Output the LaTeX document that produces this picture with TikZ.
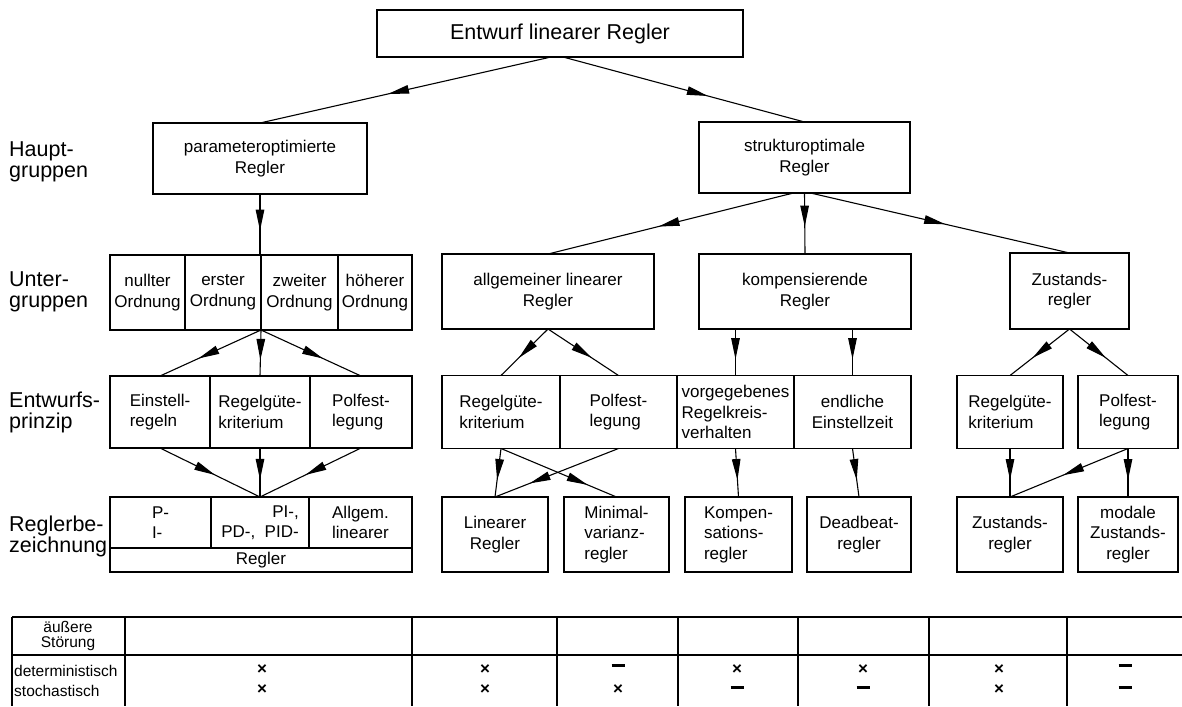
\documentclass[tikz,border=0pt]{standalone}
\usepackage{fontspec}
\setmainfont{Liberation Sans}
\usetikzlibrary{arrows.meta,decorations.markings}
\newcommand{\rgbox}{\fontsize{17}{20.5}\selectfont}
\newcommand{\rgbig}{\fontsize{21.5}{21}\selectfont}
\newcommand{\rgtab}{\fontsize{15.5}{15}\selectfont}
\newcommand{\rgstrich}{\rule[0.35ex]{13pt}{2.2pt}}
\begin{document}
\begin{tikzpicture}[x=1pt, y=-1pt,
  box/.style={draw, line width=1.5pt, inner sep=0pt, outer sep=0pt, align=center, font=\rgbox},
  zeile/.style={anchor=west, align=left, inner sep=0pt, font=\rgbig},
  pfeil/.style={line width=1.1pt, postaction={decorate},
    decoration={markings, mark=at position #1 with {\arrow{Triangle[length=21pt,width=8.5pt]}}}},
  pfeil/.default=0.6,
  tab/.style={line width=1.1pt},
  kreuz/.style={inner sep=0pt, font=\fontsize{17}{17}\selectfont\bfseries}]
\useasboundingbox (0,0) rectangle (1182,706);
% Entwurf
\node[box, font=\rgbig, minimum width=366pt, minimum height=47pt] (top) at (560,33.5){Entwurf linearer Regler};
% Hauptgruppen
\node[zeile] (lab1) at (9,162){Haupt-\\gruppen};
\node[box, minimum width=214pt, minimum height=71pt] (hg1) at (260,158.5){parameteroptimierte\\Regler};
\node[box, minimum width=211pt, minimum height=71pt] (hg2) at (804.5,157.5){strukturoptimale\\Regler};
\draw[pfeil=0.56]([xshift=-9pt]top.south) -- (hg1.north);
\draw[pfeil=0.6]([xshift=3pt]top.south) -- (hg2.north);
% Untergruppen
\node[zeile] (lab2) at (9,292){Unter-\\gruppen};
\node[box, minimum width=75pt, minimum height=75pt] (ug1) at (147.5,292.5){nullter\\Ordnung};
\node[box, minimum width=76pt, minimum height=75pt] (ug2) at (223,292.5){erster\\Ordnung};
\node[box, minimum width=77pt, minimum height=75pt] (ug3) at (299.5,292.5){zweiter\\Ordnung};
\node[box, minimum width=74pt, minimum height=75pt] (ug4) at (375,292.5){höherer\\Ordnung};
\node[box, minimum width=212pt, minimum height=75pt] (ug5) at (548,291.5){allgemeiner linearer\\Regler};
\node[box, minimum width=212pt, minimum height=75pt] (ug6) at (805,291.5){kompensierende\\Regler};
\node[box, minimum width=119pt, minimum height=76pt] (ug7) at (1069.5,291){Zustands-\\regler};
\draw[pfeil=0.6](hg1.south) -- (hg1.south |- ug2.north);
\draw[pfeil=0.55]([xshift=-11pt]hg2.south) -- (ug5.north);
\draw[pfeil=0.55](hg2.south) -- (ug6.north);
\draw[pfeil=0.52]([xshift=6pt]hg2.south) -- (ug7.north);
% Entwurfsprinzip
\node[zeile] (lab3) at (9,412){Entwurfs-\\prinzip};
\node[box, align=left, minimum width=100pt, minimum height=72pt] (ep1) at (160,412){Einstell-\\regeln};
\node[box, align=left, minimum width=100pt, minimum height=72pt] (ep2) at (260,412){Regelgüte-\\kriterium};
\node[box, align=left, minimum width=102pt, minimum height=72pt] (ep3) at (361,412){Polfest-\\legung};
\node[box, align=left, minimum width=118pt, minimum height=73pt] (ep4) at (501,412){Regelgüte-\\kriterium};
\node[box, align=left, minimum width=117pt, minimum height=73pt] (ep5) at (618.5,412){Polfest-\\legung};
\node[box, align=left, minimum width=117pt, minimum height=73pt] (ep6) at (735.5,412){vorgegebenes\\Regelkreis-\\verhalten};
\node[box, minimum width=117pt, minimum height=73pt] (ep7) at (852.5,412){endliche\\Einstellzeit};
\node[box, align=left, minimum width=106pt, minimum height=73pt] (ep8) at (1010,412){Regelgüte-\\kriterium};
\node[box, align=left, minimum width=100pt, minimum height=73pt] (ep9) at (1128,412){Polfest-\\legung};
\draw[pfeil=0.62](ug2.south east) -- (ep1.north);
\draw[pfeil=0.65](ug2.south east) -- (ep2.north);
\draw[pfeil=0.62](ug2.south east) -- (ep3.north);
\draw[pfeil=0.62](ug5.south) -- (ep4.north);
\draw[pfeil=0.62](ug5.south) -- (ep5.north);
\draw[pfeil=0.65](ug6.south -| ep6.north) -- (ep6.north);
\draw[pfeil=0.65](ug6.south -| ep7.north) -- (ep7.north);
\draw[pfeil=0.62](ug7.south) -- (ep8.north);
\draw[pfeil=0.62](ug7.south) -- (ep9.north);
% Reglerbezeichnung
\node[zeile] (lab4) at (9,536){Reglerbe-\\zeichnung};
\node[box, align=left, minimum width=101pt, minimum height=51pt] (rb1) at (160.5,522.5){P-\\I-};
\node[box, align=right, minimum width=98pt, minimum height=51pt] (rb2) at (260,522.5){PI-,\\PD-,\ \ PID-};
\node[box, align=left, minimum width=103pt, minimum height=51pt] (rb3) at (360.5,522.5){Allgem.\\linearer};
\node[box, minimum width=302pt, minimum height=24pt] (rb4) at (261,560){Regler};
\node[box, minimum width=106pt, minimum height=75pt] (bt1) at (495,534.5){Linearer\\Regler};
\node[box, align=left, minimum width=105pt, minimum height=75pt] (bt2) at (616.5,534.5){Minimal-\\varianz-\\regler};
\node[box, align=left, minimum width=107pt, minimum height=75pt] (bt3) at (738.5,534.5){Kompen-\\sations-\\regler};
\node[box, minimum width=104pt, minimum height=75pt] (bt4) at (859,534.5){Deadbeat-\\regler};
\node[box, minimum width=106pt, minimum height=75pt] (bt5) at (1010,534.5){Zustands-\\regler};
\node[box, minimum width=100pt, minimum height=75pt] (bt6) at (1128,534.5){modale\\Zustands-\\regler};
\draw[pfeil=0.55](ep1.south) -- (rb2.north);
\draw[pfeil=0.65](ep2.south) -- (rb2.north);
\draw[pfeil=0.55](ep3.south) -- (rb2.north);
\draw[pfeil=0.65](ep4.south) -- (bt1.north);
\draw[pfeil=0.75](ep4.south) -- (bt2.north);
\draw[pfeil=0.72](ep5.south) -- (bt1.north);
\draw[pfeil=0.65](ep6.south) -- (bt3.north);
\draw[pfeil=0.65](ep7.south) -- (bt4.north);
\draw[pfeil=0.65](ep8.south) -- (bt5.north);
\draw[pfeil=0.65](ep9.south) -- (bt6.north);
\draw[pfeil=0.55](ep9.south) -- (bt5.north);
% Tabelle
\draw[tab](12,617) -- (1182,617);
\draw[tab](12,655) -- (1182,655);
\draw[tab](12,617) -- (12,706);
\draw[tab](125,617) -- (125,706);
\draw[tab](412,617) -- (412,706);
\draw[tab](557,617) -- (557,706);
\draw[tab](678,617) -- (678,706);
\draw[tab](798,617) -- (798,706);
\draw[tab](929,617) -- (929,706);
\draw[tab](1067,617) -- (1067,706);
\node[inner sep=0pt, align=center, font=\rgtab] (tk0) at (68,636){äußere\\Störung};
\node[anchor=west, inner sep=0pt, font=\rgtab] (tk1) at (14,671){deterministisch};
\node[anchor=west, inner sep=0pt, font=\rgtab] (tk2) at (14,691){stochastisch};
\node[kreuz] (m11) at (262,670){×};
\node[kreuz] (m12) at (485,670){×};
\node[kreuz] (m13) at (618,667){\rgstrich};
\node[kreuz] (m14) at (737,670){×};
\node[kreuz] (m15) at (863,670){×};
\node[kreuz] (m16) at (999,670){×};
\node[kreuz] (m17) at (1125,667){\rgstrich};
\node[kreuz] (m21) at (262,690){×};
\node[kreuz] (m22) at (485,690){×};
\node[kreuz] (m23) at (618,690){×};
\node[kreuz] (m24) at (737,689){\rgstrich};
\node[kreuz] (m25) at (863,689){\rgstrich};
\node[kreuz] (m26) at (999,690){×};
\node[kreuz] (m27) at (1125,689){\rgstrich};
\end{tikzpicture}
\end{document}
